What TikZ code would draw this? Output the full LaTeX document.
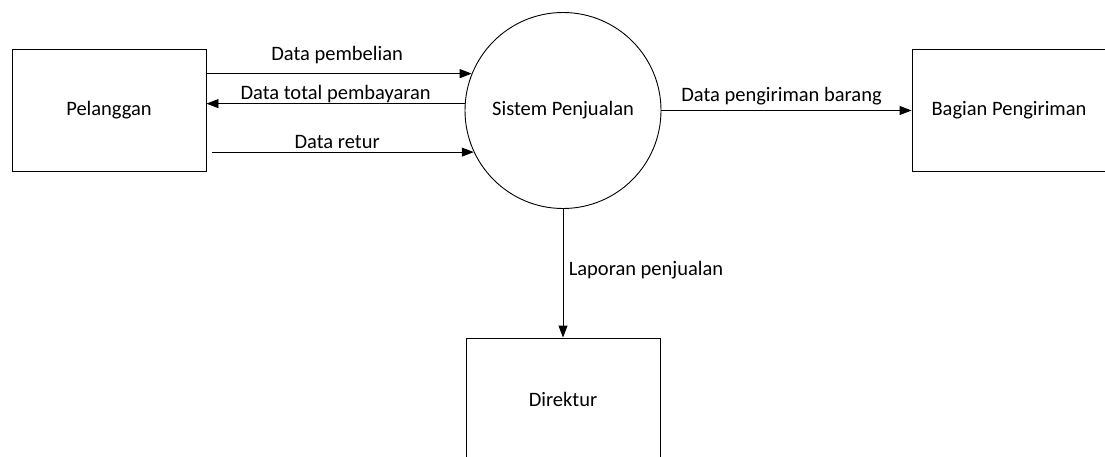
\documentclass[tikz,border=0pt]{standalone}
\usepackage{fontspec}
\setmainfont{Carlito}
\usetikzlibrary{arrows.meta}
\begin{document}
\begin{tikzpicture}[x=1pt,y=-1pt,
  font=\fontsize{20.5}{24}\selectfont,
  entity/.style={draw=black, line width=0.9pt, minimum width=194pt, minimum height=122pt, inner sep=0pt},
  process/.style={draw=black, line width=0.9pt, circle, minimum size=196pt, inner sep=0pt},
  flow/.style={draw=black, line width=0.9pt, -{Triangle[length=12pt,width=9pt]}},
  lbl/.style={anchor=base}]
  \useasboundingbox (0,0) rectangle (1105,457);

  % external entities and the process
  \node[entity] (P) at (109,110.5) {Pelanggan};
  \node[process] (S) at (563,110.5) {Sistem Penjualan};
  \node[entity] (B) at (1009,110.5) {Bagian Pengiriman};
  \node[entity] (D) at (563,399) {Direktur};

  % data flows
  \draw[flow] (P.east |- S.158) -- node[lbl, yshift=13pt, xshift=-2pt] {Data pembelian} (S.158);
  \draw[flow] (S.176) -- node[lbl, yshift=4pt] {Data total pembayaran} (P.east |- S.176);
  \draw[flow] ([xshift=6pt]P.east |- S.205) -- node[lbl, yshift=4pt, xshift=-6pt] {Data retur} (S.205);
  \draw[flow] (S.east) -- node[lbl, yshift=9pt, xshift=-5pt] {Data pengiriman barang} (S.east -| B.west);
  \draw[flow] (S.south) -- node[anchor=base west, pos=0.52, xshift=2pt] {Laporan penjualan} (D.north);
\end{tikzpicture}
\end{document}
